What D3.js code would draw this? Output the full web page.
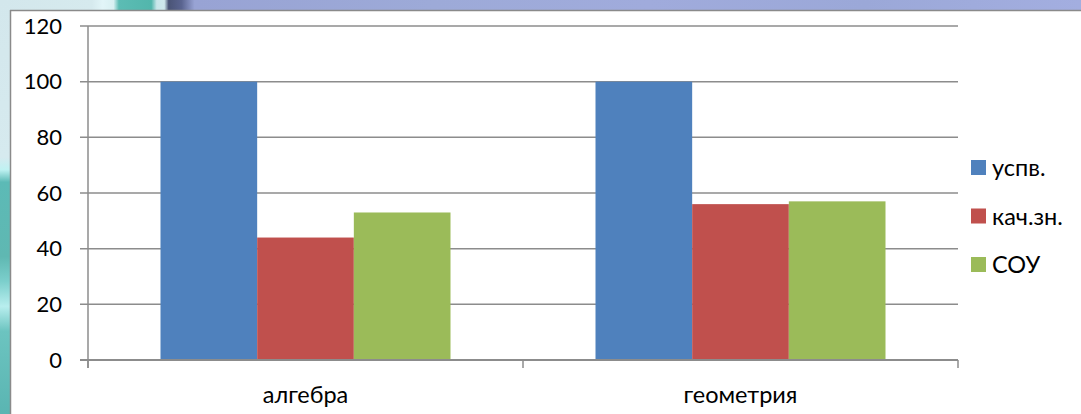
<!DOCTYPE html>
<html><head><meta charset="utf-8">
<script src="https://cdn.jsdelivr.net/npm/d3@7/dist/d3.min.js"></script>
<style>
html,body{margin:0;padding:0;background:#fff;}
svg{display:block;}
text{font-family:Lato,"Liberation Sans",sans-serif;fill:#000;}
</style></head>
<body>
<svg id="chart" width="1081" height="414"></svg>
<script>
const categories = ["алгебра", "геометрия"];
const seriesNames = ["успв.", "кач.зн.", "СОУ"];
const seriesColors = ["#4f81bd", "#c0504d", "#9bbb59"];
const uspv = [100, 100];
const kachZn = [44, 56];
const sou = [53, 57];
const yTicks = [0, 20, 40, 60, 80, 100, 120];

(function () {
const seriesValues = [uspv, kachZn, sou];
const svg = d3.select("#chart");

// background decoration (outer frame)
const defs = svg.append("defs");
const gTop = defs.append("linearGradient").attr("id","gTop").attr("x1","0").attr("x2","1").attr("y1","0").attr("y2","0");
[[0,"#d3e7ec"],[0.085,"#d6eaee"],[0.095,"#e2f5f8"],[0.105,"#d9f0f2"],[0.11,"#5cbcb4"],[0.14,"#52b6ac"],[0.145,"#c9e6ea"],[0.152,"#cfe8ec"],[0.156,"#4a5476"],[0.168,"#5a6490"],[0.18,"#98a3d4"],[0.4,"#9daad8"],[0.6,"#a0abdc"],[0.8,"#9ba8d8"],[1,"#a3aee0"]]
  .forEach(([o,c])=>gTop.append("stop").attr("offset",o).attr("stop-color",c));
const gLeft = defs.append("linearGradient").attr("id","gLeft").attr("x1","0").attr("x2","0").attr("y1","0").attr("y2","1");
[[0,"#d3e7ec"],[0.38,"#d6eaef"],[0.41,"#bff2f2"],[0.44,"#5cbab6"],[0.62,"#5fb8b2"],[0.68,"#7ccfcc"],[0.74,"#b8eeee"],[0.8,"#6cc4c0"],[1,"#5ab5b2"]]
  .forEach(([o,c])=>gLeft.append("stop").attr("offset",o).attr("stop-color",c));
svg.append("rect").attr("x",0).attr("y",0).attr("width",1081).attr("height",10).attr("fill","url(#gTop)");
svg.append("rect").attr("x",0).attr("y",0).attr("width",10).attr("height",414).attr("fill","url(#gLeft)");
svg.append("rect").attr("x",10).attr("y",10).attr("width",1071).attr("height",404).attr("fill","#fff");
svg.append("line").attr("x1",10).attr("x2",1081).attr("y1",10.5).attr("y2",10.5).attr("stroke","#8a8a8a").attr("stroke-width",1.5);
svg.append("line").attr("x1",10.5).attr("x2",10.5).attr("y1",10).attr("y2",414).attr("stroke","#8a8a8a").attr("stroke-width",1.5);

const pLeft = 88, pRight = 958, pTop = 26, pBottom = 360;
const x0 = d3.scaleBand().domain(categories).range([pLeft, pRight]).paddingInner(0).paddingOuter(0);
const x1 = d3.scaleBand().domain(seriesNames).range([0, x0.bandwidth()]).paddingInner(0).paddingOuter(0.75);
const y = d3.scaleLinear().domain([0, 120]).range([pBottom, pTop]);
const gridColor = "#8c8c8c";

// gridlines
svg.append("g").selectAll("line").data(yTicks).join("line")
  .attr("x1", pLeft - 8).attr("x2", pRight)
  .attr("y1", d => y(d)).attr("y2", d => y(d))
  .attr("stroke", gridColor).attr("stroke-width", 1.5);

// bars
const groups = svg.append("g").selectAll("g").data(categories).join("g")
  .attr("transform", c => `translate(${x0(c)},0)`);
groups.selectAll("rect").data((c, ci) => seriesNames.map((s, si) => ({s, si, v: seriesValues[si][ci]})))
  .join("rect")
  .attr("x", d => x1(d.s)).attr("width", x1.bandwidth())
  .attr("y", d => y(d.v)).attr("height", d => y(0) - y(d.v))
  .attr("fill", d => seriesColors[d.si]);

// y axis line
svg.append("line").attr("x1", pLeft).attr("x2", pLeft).attr("y1", pTop).attr("y2", pBottom + 8)
  .attr("stroke", gridColor).attr("stroke-width", 1.5);
// x axis line
svg.append("line").attr("x1", pLeft - 8).attr("x2", pRight).attr("y1", pBottom).attr("y2", pBottom)
  .attr("stroke", gridColor).attr("stroke-width", 2);
// category ticks
const catTicks = [pLeft, ...categories.map(c => x0(c) + x0.bandwidth())];
svg.append("g").selectAll("line").data(catTicks).join("line")
  .attr("x1", d => d).attr("x2", d => d).attr("y1", pBottom).attr("y2", pBottom + 8)
  .attr("stroke", gridColor).attr("stroke-width", 1.5);

// y labels
svg.append("g").selectAll("text").data(yTicks).join("text")
  .attr("x", 62).attr("y", d => y(d)).attr("dy", "0.35em")
  .attr("text-anchor", "end").attr("font-size", 22).text(d => d);

// x labels
svg.append("g").selectAll("text").data(categories).join("text")
  .attr("x", c => x0(c) + x0.bandwidth() / 2).attr("y", 395).attr("dy", "0.35em")
  .attr("text-anchor", "middle").attr("font-size", 23.5).text(c => c);

// legend
const lg = svg.append("g").selectAll("g").data(seriesNames).join("g")
  .attr("transform", (d, i) => `translate(971,${160 + i * 48.5})`);
lg.append("rect").attr("width", 15).attr("height", 15).attr("fill", (d, i) => seriesColors[i]);
lg.append("text").attr("x", 21).attr("y", 8).attr("dy", "0.35em").attr("font-size", 23.5).text(d => d);
})();
</script>
</body></html>
